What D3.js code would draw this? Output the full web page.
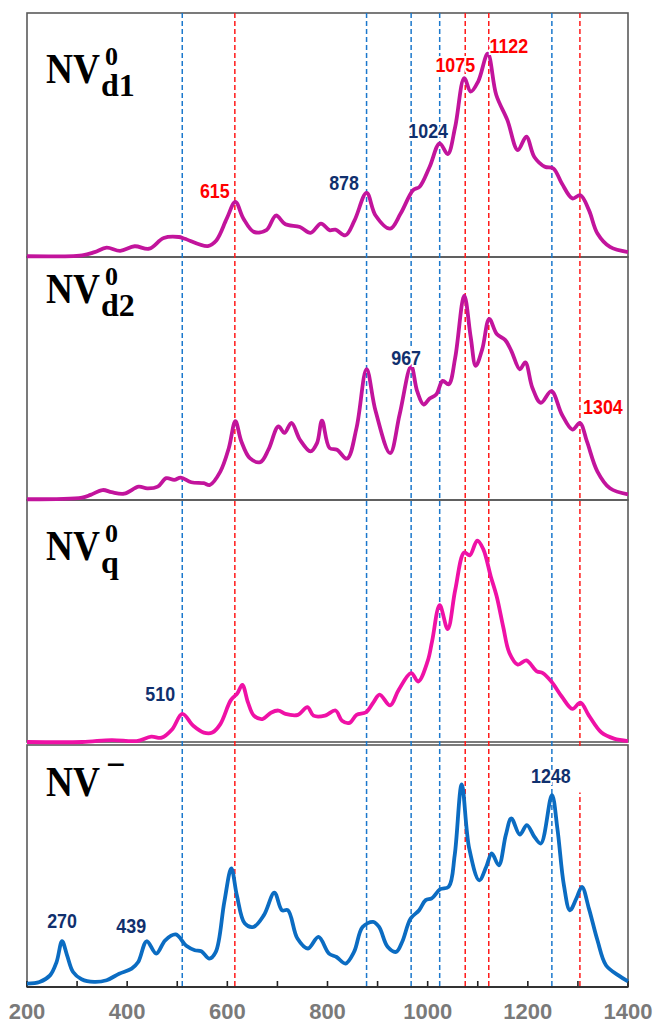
<!DOCTYPE html>
<html lang="en">
<head>
<meta charset="UTF-8">
<title>NV spectra</title>
<script src="https://cdn.jsdelivr.net/npm/d3@7/dist/d3.min.js"></script>
<style>
  body { margin: 0; background: #fff; }
  svg { display: block; }
  .tick-label { font-family: "Liberation Sans", Arial, sans-serif; font-weight: bold; font-size: 22px; fill: #7a7a7a; }
  .peak { font-family: "Liberation Sans", Arial, sans-serif; font-weight: bold; font-size: 21px;
          stroke: #fff; stroke-width: 4px; paint-order: stroke; }
  .title { font-family: "Liberation Serif", "Times New Roman", serif; font-weight: bold; fill: #000; }
</style>
</head>
<body>
<script>
// wavenumber (cm-1) / relative intensity (% of panel height)
var d1Wave = [200, 310, 335, 359, 386, 415, 444, 473, 503, 515, 561, 578, 599, 616, 632, 653, 678, 697, 716, 745, 766, 787, 804, 816, 836, 854, 878, 896, 925, 946, 971, 984, 1004, 1024, 1040, 1055, 1073, 1086, 1101, 1120, 1137, 1159, 1180, 1197, 1213, 1234, 1251, 1268, 1289, 1305, 1322, 1339, 1364, 1400];
var d1Int = [0.3, 0.7, 2, 3.8, 2.5, 4.4, 3.4, 7.8, 8.2, 7.5, 4.5, 6.8, 15.8, 22.6, 15.8, 10.3, 11, 17, 13.4, 12.3, 9.9, 13.7, 11, 11.2, 8.9, 15, 26.3, 17, 11.6, 17.8, 27.4, 28.8, 37, 46.6, 42.2, 53.4, 73.3, 67.8, 72, 83.3, 66.4, 56.2, 43.8, 49.3, 41, 37, 36.3, 30.1, 24, 25.3, 19.2, 9.6, 4.1, 2];

var d2Wave = [200, 310, 327, 351, 369, 394, 423, 440, 461, 478, 494, 507, 528, 553, 565, 586, 603, 616, 628, 645, 666, 682, 702, 714, 728, 745, 766, 779, 789, 804, 819, 839, 858, 878, 896, 925, 944, 967, 979, 992, 1004, 1017, 1030, 1042, 1055, 1073, 1086, 1096, 1109, 1123, 1138, 1155, 1167, 1184, 1195, 1209, 1226, 1247, 1268, 1289, 1304, 1318, 1339, 1364, 1400];
var d2Int = [0.3, 1, 2.1, 4.1, 3.2, 2.6, 5.5, 4.8, 5.5, 9, 8.3, 9.2, 7.3, 6.9, 6.2, 11.7, 21.4, 32.4, 24.1, 17.2, 15.6, 20.7, 30.3, 27.6, 31.7, 24.8, 20, 23.4, 32.7, 21.4, 20.7, 17, 29.7, 53.8, 36.6, 19.3, 35.2, 55.2, 44.8, 39.3, 41.8, 43.4, 49, 47.6, 58.6, 84.1, 66.9, 55.2, 62.1, 74.5, 68.3, 65.8, 61.4, 53.8, 56.6, 46.2, 40, 44.8, 35.2, 29, 31.7, 24.1, 11.7, 4.8, 2.3];

var qWave = [200, 310, 369, 419, 448, 469, 490, 510, 532, 553, 570, 586, 607, 620, 630, 641, 653, 670, 687, 702, 716, 741, 760, 772, 795, 816, 829, 844, 858, 877, 892, 904, 925, 942, 967, 981, 1000, 1009, 1024, 1040, 1055, 1073, 1084, 1099, 1111, 1126, 1138, 1151, 1163, 1180, 1197, 1218, 1230, 1247, 1268, 1289, 1305, 1322, 1347, 1372, 1400];
var qInt = [0, 0, 0.8, 0.4, 2.2, 1.8, 5.3, 11.6, 6.7, 3.9, 3.9, 7.4, 17.3, 20.1, 23.6, 16.5, 10.9, 9.5, 12.1, 13, 11.6, 11.2, 14.4, 10.9, 10.9, 13, 8.8, 7.9, 11.2, 12.3, 16.5, 19.6, 15.1, 21.5, 28.5, 25, 33.4, 41.8, 56.5, 46.7, 62.8, 78.3, 77.1, 83.2, 79.7, 68.4, 60, 47.4, 36.9, 32, 33.7, 29.2, 28.5, 25, 18.7, 13.7, 16.3, 10.9, 3.9, 1.4, 0.4];

var negWave = [200, 225, 246, 259, 270, 280, 292, 309, 334, 359, 384, 409, 422, 439, 458, 476, 497, 518, 535, 548, 564, 577, 594, 608, 619, 635, 652, 673, 694, 709, 721, 740, 761, 782, 803, 818, 836, 853, 870, 891, 903, 920, 937, 949, 966, 983, 996, 1008, 1025, 1042, 1054, 1068, 1083, 1103, 1117, 1128, 1142, 1156, 1167, 1184, 1198, 1213, 1226, 1248, 1259, 1272, 1284, 1297, 1308, 1322, 1339, 1356, 1381, 1400];
var negInt = [1.4, 2.1, 4.8, 10.3, 18.9, 13.1, 6.2, 3.2, 2.1, 2.8, 5.5, 7.6, 10.3, 18.9, 13.8, 19.3, 21.7, 17, 15.2, 14.8, 11.7, 14.5, 35.2, 49, 37.9, 26.2, 24.8, 29.7, 39, 31.7, 31.7, 20, 15.9, 20.7, 13.8, 12.4, 9.7, 14.5, 24.8, 26.9, 24.8, 16.6, 14.5, 18.6, 28.3, 31.7, 35.9, 36.6, 40.4, 41.4, 54.5, 83.7, 57.2, 44.1, 49.7, 55.2, 50.3, 62.8, 69.7, 63, 66.9, 62.1, 59.3, 79.3, 65.5, 42.1, 31.7, 36.6, 41.4, 32.4, 19.3, 9, 4.8, 2.3];

var titleMain = ["NV", "NV", "NV", "NV"];
var titleSup = ["0", "0", "0", "\u2212"];
var titleSub = ["d1", "d2", "q", ""];

// reference lines (cm-1)
var blueLines = [510, 878, 967, 1024, 1248];
var redLines = [615, 1075, 1122, 1304];

// peak annotations: panel, text, colour group, anchor wavenumber, anchor intensity
var labelPanel = [0, 0, 0, 0, 0, 1, 1, 2, 3, 3, 3];
var labelText = ["615", "878", "1024", "1075", "1122", "967", "1304", "510", "270", "439", "1248"];
var labelRed = [true, false, false, true, true, false, true, false, false, false, false];
var labelWave = [575, 833, 1001, 1055, 1162, 957, 1350, 466, 270, 408, 1246];
var labelInt = [24.2, 27.5, 48.8, 75.8, 83.6, 55.6, 35.4, 16.9, 24.4, 22.3, 84.3];

var xTicks = d3.range(200, 1401, 100);
var xTickLabels = [200, 400, 600, 800, 1000, 1200, 1400];

var series = [
  { wave: d1Wave, val: d1Int, color: "#c2149c" },
  { wave: d2Wave, val: d2Int, color: "#c2149c" },
  { wave: qWave, val: qInt, color: "#ef11a6" },
  { wave: negWave, val: negInt, color: "#0b6cc2" }
];

var w = 657, h = 1029;
var left = 27, right = 628;
var panelTop = [13, 257, 500, 745];
var panelH = [244, 243, 242, 242];

var svg = d3.select("body").append("svg").attr("width", w).attr("height", h);

var x = d3.scaleLinear().domain([200, 1400]).range([left, right]);

var yScales = panelTop.map(function (t, i) {
  return d3.scaleLinear().domain([0, 100]).range([t + panelH[i], t]);
});

// frames
panelTop.forEach(function (t, i) {
  svg.append("rect")
    .attr("x", left).attr("y", t)
    .attr("width", right - left).attr("height", panelH[i])
    .attr("fill", "none").attr("stroke", "#5a5a5a").attr("stroke-width", 1.6);
});

// dashed reference lines through all panels
var yTop = panelTop[0], yBottom = panelTop[3] + panelH[3];
svg.selectAll(".bline").data(blueLines).enter().append("line")
  .attr("x1", function (d) { return x(d); }).attr("x2", function (d) { return x(d); })
  .attr("y1", yTop).attr("y2", yBottom)
  .attr("stroke", "#1b78cc").attr("stroke-width", 1.5).attr("stroke-dasharray", "5,3");
svg.selectAll(".rline").data(redLines).enter().append("line")
  .attr("x1", function (d) { return x(d); }).attr("x2", function (d) { return x(d); })
  .attr("y1", yTop).attr("y2", yBottom)
  .attr("stroke", "#ff1a1a").attr("stroke-width", 1.5).attr("stroke-dasharray", "5,3");
// the 1304 line is broken off at the top of the last panel
svg.append("rect")
  .attr("x", x(1304) - 2).attr("y", panelTop[3] + 1.5)
  .attr("width", 4).attr("height", 46).attr("fill", "#fff");

// bottom axis ticks (inside) and labels
var axisY = yBottom;
svg.selectAll(".tk").data(xTicks).enter().append("line")
  .attr("x1", function (d) { return x(d); }).attr("x2", function (d) { return x(d); })
  .attr("y1", axisY).attr("y2", axisY - 6)
  .attr("stroke", "#222").attr("stroke-width", 1.6);
svg.append("line").attr("x1", left).attr("x2", right).attr("y1", axisY).attr("y2", axisY)
  .attr("stroke", "#333").attr("stroke-width", 2);
svg.selectAll(".tick-label").data(xTickLabels).enter().append("text")
  .attr("class", "tick-label")
  .attr("x", function (d) { return x(d); }).attr("y", 1019)
  .attr("text-anchor", "middle")
  .text(function (d) { return d; });

// spectra
series.forEach(function (s, i) {
  var pts = s.wave.map(function (wv, j) { return [wv, s.val[j]]; });
  var line = d3.line()
    .x(function (d) { return x(d[0]); })
    .y(function (d) { return yScales[i](d[1]); })
    .curve(d3.curveCatmullRom.alpha(0.5));
  svg.append("path").datum(pts)
    .attr("d", line)
    .attr("fill", "none").attr("stroke", s.color)
    .attr("stroke-width", 3.8).attr("stroke-linejoin", "round");
});

// peak labels
labelText.forEach(function (t, i) {
  var p = labelPanel[i];
  var px = x(labelWave[i]), py = yScales[p](labelInt[i]);
  svg.append("text").attr("class", "peak")
    .attr("text-anchor", "middle")
    .attr("transform", "translate(" + px + "," + py + ") scale(0.85,1)")
    .attr("fill", labelRed[i] ? "#ff0000" : "#10306e")
    .text(t);
});

// panel titles
var titleBase = [83, 303, 560, 796];
titleMain.forEach(function (t, i) {
  var g = svg.append("g").attr("transform", "translate(46," + titleBase[i] + ")");
  var main = g.append("text").attr("class", "title")
    .attr("font-size", 42)
    .attr("transform", "scale(0.89,1)")
    .text(t);
  var mw = main.node().getComputedTextLength() * 0.89;
  g.append("text").attr("class", "title")
    .attr("x", mw + (i === 3 ? 6 : 5)).attr("y", i === 3 ? -20 : -18)
    .attr("font-size", i === 3 ? 34 : 26)
    .text(titleSup[i]);
  if (titleSub[i]) {
    g.append("text").attr("class", "title")
      .attr("x", mw + 1).attr("y", 13)
      .attr("font-size", 32)
      .text(titleSub[i]);
  }
});
</script>
</body>
</html>
